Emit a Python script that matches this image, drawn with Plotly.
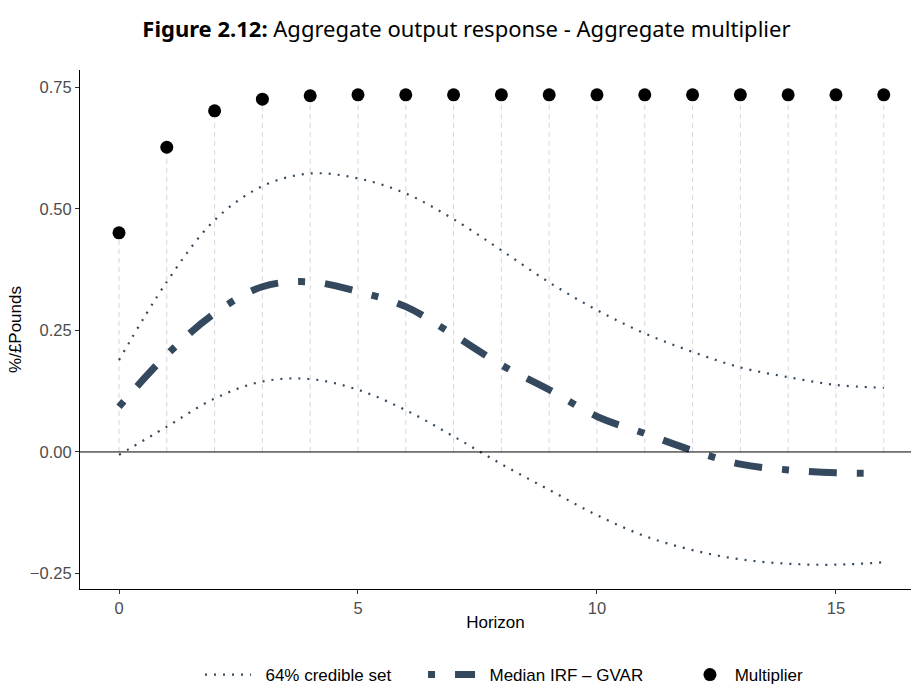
import plotly.graph_objects as go

horizon = list(range(17))
multiplier = [0.451, 0.627, 0.702, 0.726, 0.733, 0.735, 0.735, 0.735, 0.735,
              0.735, 0.735, 0.735, 0.735, 0.735, 0.735, 0.735, 0.735]
median_irf = [0.093, 0.200, 0.285, 0.340, 0.350, 0.330, 0.299, 0.241, 0.179,
              0.128, 0.073, 0.038, 0.003, -0.025, -0.037, -0.043, -0.044]
upper_band = [0.189, 0.350, 0.477, 0.547, 0.573, 0.563, 0.532, 0.479, 0.415,
              0.349, 0.292, 0.244, 0.206, 0.174, 0.154, 0.138, 0.132]
lower_band = [-0.006, 0.052, 0.110, 0.145, 0.150, 0.128, 0.086, 0.032, -0.025,
              -0.078, -0.130, -0.173, -0.202, -0.221, -0.230, -0.232, -0.227]

y_ticks = [-0.25, 0.0, 0.25, 0.50, 0.75]
y_tick_labels = ["\u22120.25", "0.00", "0.25", "0.50", "0.75"]
x_ticks = [0, 5, 10, 15]

band_color = "#34495e"
FS_TICK = 16.5
FS = 17
NB = "\u00a0"
fig = go.Figure()

# lollipop stems
for h, m in zip(horizon, multiplier):
    fig.add_trace(go.Scatter(x=[h, h], y=[0, m], mode="lines",
                             line=dict(color="#d6d6dc", width=1, dash="5px,4px"),
                             showlegend=False, hoverinfo="skip"))

fig.add_trace(go.Scatter(x=horizon, y=upper_band, mode="lines",
                         name=NB * 2 + "64% credible set",
                         line=dict(color=band_color, width=2.2, dash="2px,7px", shape="spline"),
                         legend="legend"))
fig.add_trace(go.Scatter(x=horizon, y=lower_band, mode="lines", name="64% credible set",
                         line=dict(color=band_color, width=2.2, dash="2px,7px", shape="spline"),
                         showlegend=False))
fig.add_trace(go.Scatter(x=horizon, y=median_irf, mode="lines", name="Median IRF \u2013 GVAR",
                         line=dict(color=band_color, width=7, dash="7px,20px,28px,20px",
                                   shape="spline"),
                         showlegend=False))
# legend key for the median line (ggplot-style key: dot then dash)
fig.add_trace(go.Scatter(x=[None], y=[None], mode="lines",
                         name=NB * 2 + "Median IRF \u2013 GVAR",
                         line=dict(color=band_color, width=7, dash="7px,20px,20px,20px"),
                         legend="legend2"))
fig.add_trace(go.Scatter(x=horizon, y=multiplier, mode="markers", name=NB + "Multiplier",
                         marker=dict(color="black", size=13), legend="legend3"))

fig.add_hline(y=0, line=dict(color="black", width=1))

leg_common = dict(orientation="h", y=-0.1657, yanchor="middle", font=dict(size=FS),
                  bgcolor="rgba(0,0,0,0)")

fig.update_layout(
    width=911, height=686,
    margin=dict(l=80, r=0, t=70, b=97, autoexpand=False),
    paper_bgcolor="white", plot_bgcolor="white",
    font=dict(family="Liberation Sans, Arial, sans-serif", color="#000"),
    title=dict(text="<b>Figure 2.12:</b> Aggregate output response - Aggregate multiplier",
               x=0.512, xanchor="center", y=0.957, yanchor="middle",
               font=dict(family="Noto Sans, sans-serif", size=22, color="#000")),
    xaxis=dict(range=[-0.816, 16.57], tickvals=x_ticks, showgrid=False, zeroline=False,
               showline=True, linecolor="black", linewidth=1.2,
               ticks="outside", ticklen=4, tickcolor="#333",
               tickfont=dict(size=FS_TICK, color="#4d4d4d"),
               title=dict(text="Horizon", font=dict(size=FS), standoff=0)),
    yaxis=dict(range=[-0.282, 0.786], tickvals=y_ticks, ticktext=y_tick_labels,
               showgrid=False, zeroline=False,
               showline=True, linecolor="black", linewidth=1.2,
               ticks="outside", ticklen=4, tickcolor="#333",
               tickfont=dict(size=FS_TICK, color="#4d4d4d"),
               title=dict(text="%/\u00a3Pounds", font=dict(size=FS), standoff=3)),
    legend=dict(x=0.1444, xanchor="left", itemwidth=46, **leg_common),
    legend2=dict(x=0.4128, xanchor="left", itemwidth=47, **leg_common),
    legend3=dict(x=0.734, xanchor="left", itemwidth=30, **leg_common),
)

fig.write_html("out.html")
